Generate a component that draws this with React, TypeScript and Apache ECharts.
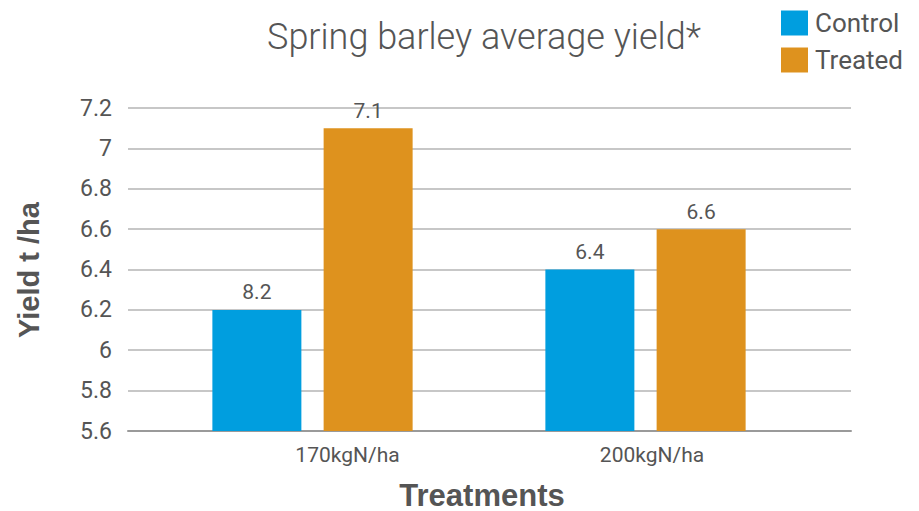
import React, { useEffect, useRef } from "react";
import * as echarts from "echarts";

const categories = ["170kgN/ha", "200kgN/ha"];
const controlValues = [6.2, 6.4];
const treatedValues = [7.1, 6.6];
const controlLabels = ["8.2", "6.4"];
const treatedLabels = ["7.1", "6.6"];
const yTicks = { min: 5.6, max: 7.2, interval: 0.2 };

const TEXT = "#555555";
const FONT = "Roboto";

export default function App() {
  const ref = useRef<HTMLDivElement>(null);
  useEffect(() => {
    if (!ref.current) return;
    const chart = echarts.init(ref.current, null, { renderer: "svg" });
    chart.setOption({
      animation: false,
      backgroundColor: "#ffffff",
      title: {
        text: "Spring barley average yield*",
        left: 479,
        top: 14,
        textAlign: "center",
        textStyle: { fontFamily: FONT, fontWeight: 300, fontSize: 36, color: TEXT },
      },
      legend: {
        orient: "vertical",
        left: 776,
        top: 5,
        itemWidth: 27,
        itemHeight: 25,
        itemGap: 11,
        icon: "rect",
        textStyle: { fontFamily: FONT, fontSize: 26, color: TEXT, padding: [0, 0, 0, 2] },
        data: ["Control", "Treated"],
      },
      grid: [
        { left: 128, right: 68, top: 108, bottom: 80 },
        { left: 146, width: 666, top: 108, bottom: 80 },
      ],
      xAxis: [
        {
          gridIndex: 0,
          type: "category",
          data: categories,
          axisLine: { show: true, lineStyle: { color: "#9a9a9a", width: 2 } },
          axisTick: { show: false },
          axisLabel: { show: false },
        },
        {
          gridIndex: 1,
          type: "category",
          data: categories,
          axisLine: { show: false },
          axisTick: { show: false },
          axisLabel: {
            margin: 13,
            formatter: (v: string, i: number) => (i === 0 ? `{a|${v}}` : `{b|${v}}`),
            rich: {
              a: { fontFamily: FONT, fontSize: 21, color: TEXT, padding: [0, 0, 0, 70] },
              b: { fontFamily: FONT, fontSize: 21, color: TEXT, padding: [0, 0, 0, 13] },
            },
          },
        },
      ],
      yAxis: [
        {
          gridIndex: 0,
          type: "value",
          min: yTicks.min,
          max: yTicks.max,
          interval: yTicks.interval,
          axisLine: { show: false },
          axisTick: { show: false },
          axisLabel: {
            margin: 16,
            fontFamily: FONT,
            fontSize: 23,
            color: TEXT,
            formatter: (v: number) => String(Math.round(v * 10) / 10),
          },
          splitLine: { lineStyle: { color: "#b5b5b5", width: 1.5 } },
        },
        {
          gridIndex: 1,
          type: "value",
          min: yTicks.min,
          max: yTicks.max,
          interval: yTicks.interval,
          show: false,
          splitLine: { show: false },
        },
      ],
      series: [
        {
          name: "Control",
          type: "bar",
          xAxisIndex: 1,
          yAxisIndex: 1,
          data: controlValues,
          barWidth: 89,
          barGap: "25%",
          itemStyle: { color: "#009EDF" },
          label: {
            show: true,
            position: "top",
            distance: 7,
            fontFamily: FONT,
            fontSize: 21,
            color: TEXT,
            formatter: (p: any) => controlLabels[p.dataIndex],
          },
        },
        {
          name: "Treated",
          type: "bar",
          xAxisIndex: 1,
          yAxisIndex: 1,
          data: treatedValues,
          barWidth: 89,
          barGap: "25%",
          itemStyle: { color: "#DE921E" },
          label: {
            show: true,
            position: "top",
            distance: 7,
            fontFamily: FONT,
            fontSize: 21,
            color: TEXT,
            formatter: (p: any) => treatedLabels[p.dataIndex],
          },
        },
      ],
      graphic: [
        {
          type: "text",
          x: 29,
          y: 270,
          rotation: Math.PI / 2,
          style: {
            text: "Yield t /ha",
            fontFamily: "Liberation Sans",
            fontWeight: "bold",
            fontSize: 29,
            fill: TEXT,
            textAlign: "center",
            textVerticalAlign: "middle",
          },
        },
        {
          type: "text",
          x: 482,
          y: 495,
          style: {
            text: "Treatments",
            fontFamily: "Liberation Sans",
            fontWeight: "bold",
            fontSize: 31,
            fill: TEXT,
            textAlign: "center",
            textVerticalAlign: "middle",
          },
        },
      ],
    });
    return () => chart.dispose();
  }, []);
  return <div ref={ref} style={{ width: 919, height: 511, position: "absolute", left: 0, top: 0 }} />;
}
